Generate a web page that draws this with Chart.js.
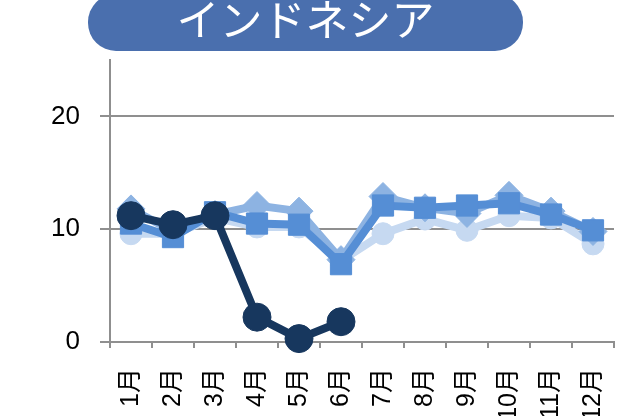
<!DOCTYPE html>
<html lang="ja">
<head>
<meta charset="utf-8">
<script src="https://cdn.jsdelivr.net/npm/chart.js@4/dist/chart.umd.min.js"></script>
<style>
  html, body { margin: 0; padding: 0; background: #fff; overflow: hidden; }
  #wrap { position: relative; width: 619px; height: 416px; }
  #grafico { position: absolute; left: 0; top: 0; }
  .titulo {
    position: absolute; left: 88px; top: -6px; width: 435px; height: 57px;
    border-radius: 28px; background: #4a6fae;
    color: #fff; text-align: center;
    font-family: "Noto Sans CJK JP", sans-serif; font-size: 43px; line-height: 43px;
    padding-top: 2px; box-sizing: border-box; overflow: hidden;
  }
</style>
</head>
<body>
<div id="wrap">
  <canvas id="grafico" width="619" height="416"></canvas>
  <div class="titulo">インドネシア</div>
</div>
<script>
// ── Datos ────────────────────────────────────────────
const meses = ['1月', '2月', '3月', '4月', '5月', '6月', '7月', '8月', '9月', '10月', '11月', '12月'];
const serieA = [9.6, 9.6, 11.0, 10.2, 10.2, 7.2, 9.6, 10.9, 9.9, 11.2, 11.0, 8.7];      // círculo claro
const serieB = [11.8, 9.8, 11.3, 12.1, 11.6, 7.3, 12.9, 11.9, 11.4, 13.0, 11.6, 9.8];  // rombo
const serieC = [10.5, 9.3, 11.5, 10.5, 10.4, 6.9, 12.1, 11.9, 12.1, 12.3, 11.3, 9.9];  // cuadrado
const serieD = [11.2, 10.4, 11.2, 2.2, 0.3, 1.8];                                      // círculo oscuro
const ticksY = [0, 10, 20];

const gris = '#8f8f8f';

function serie(data, color, estilo, radio, orden) {
    return {
        data, borderColor: color, backgroundColor: color,
        borderWidth: 8, pointStyle: estilo, pointRadius: radio,
        pointHoverRadius: radio, pointBorderWidth: 1,
        pointBackgroundColor: color, pointBorderColor: color,
        tension: 0, order: orden, clip: false
    };
}

new Chart(document.getElementById('grafico'), {
    type: 'line',
    data: {
        labels: meses,
        datasets: [
            serie(serieA, '#c6d9f1', 'circle', 11, 3),
            serie(serieB, '#8db3e2', 'rectRot', 14, 2),
            serie(serieC, '#558ed5', 'rect', 15, 1),
            serie(serieD, '#17375e', 'circle', 14, 0)
        ]
    },
    options: {
        responsive: false, animation: false,
        layout: { autoPadding: false, padding: { top: 60, right: 5, left: 0, bottom: 0 } },
        plugins: { legend: { display: false }, tooltip: { enabled: false } },
        scales: {
            y: {
                min: 0, max: 25,
                afterBuildTicks: axis => { axis.ticks = ticksY.map(v => ({ value: v })); },
                afterFit: axis => { axis.width = 110; axis.paddingTop = 0; axis.paddingBottom = 0; },
                border: { display: true, color: gris, width: 2 },
                grid: { color: gris, lineWidth: 2, drawTicks: true, tickLength: 10 },
                ticks: { color: '#000', padding: 20, font: { family: 'Liberation Sans', size: 26 } }
            },
            x: {
                offset: true,
                afterFit: axis => { axis.height = 74; axis.paddingLeft = 0; axis.paddingRight = 0; },
                border: { display: true, color: gris, width: 2 },
                grid: { offset: true, drawOnChartArea: false, drawTicks: true, tickLength: 6, color: gris, lineWidth: 2 },
                ticks: {
                    color: '#000', padding: 20, autoSkip: false,
                    minRotation: 90, maxRotation: 90,
                    font: { family: "'Liberation Sans', 'Noto Sans CJK JP'", size: 25 }
                }
            }
        }
    }
});
</script>
</body>
</html>
